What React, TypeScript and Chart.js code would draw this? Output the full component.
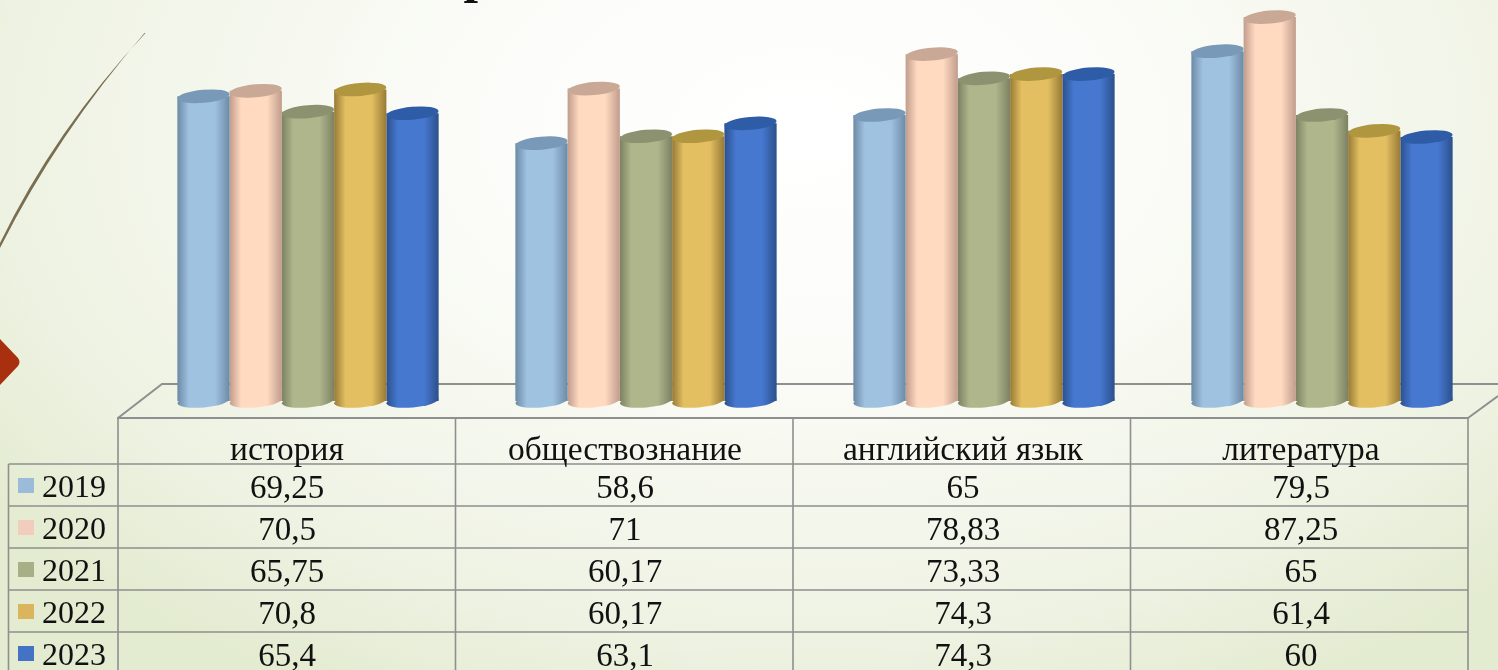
import React, { useEffect, useRef } from "react";
import { Chart, registerables } from "chart.js";

Chart.register(...registerables);

const categories = ["история", "обществознание", "английский язык", "литература"];
const years = ["2019", "2020", "2021", "2022", "2023"];
const values2019 = [69.25, 58.6, 65, 79.5];
const values2020 = [70.5, 71, 78.83, 87.25];
const values2021 = [65.75, 60.17, 73.33, 65];
const values2022 = [70.8, 60.17, 74.3, 61.4];
const values2023 = [65.4, 63.1, 74.3, 60];
const series = [values2019, values2020, values2021, values2022, values2023];

const centreColors = ["#9fc2e0", "#ffd9c0", "#afb68c", "#e3bf62", "#4678d0"];
const edgeColors = ["#6c8aa6", "#c09c8c", "#7c8262", "#977a36", "#2c508c"];
const topColors = ["#7899b8", "#c9a995", "#8c9270", "#b0963f", "#2f5ca6"];
const keyColors = ["#9cbbd8", "#f2cdbe", "#a8af86", "#dbb55e", "#4472c4"];

const GRID = "#8f8f8f";
const SERIF = '"Liberation Serif", serif';

const fmt = (v: number) => String(v).replace(".", ",");

function cylinderGradient(c: CanvasRenderingContext2D, bar: any, i: number) {
  const hw = bar.width / 2;
  const g = c.createLinearGradient(bar.x - hw, 0, bar.x + hw, 0);
  g.addColorStop(0, edgeColors[i]);
  g.addColorStop(0.22, centreColors[i]);
  g.addColorStop(0.72, centreColors[i]);
  g.addColorStop(1, edgeColors[i]);
  return g;
}

const decor = {
  id: "decor",
  beforeDraw(chart: any) {
    const c = chart.ctx;
    c.save();
    // slide decorations
    c.fillStyle = "#7a6e50";
    c.beginPath();
    c.moveTo(145.5, 33);
    c.quadraticCurveTo(55, 130, 0, 243);
    c.lineTo(0, 248);
    c.quadraticCurveTo(58, 133, 144.5, 33);
    c.closePath();
    c.fill();
    c.fillStyle = "#a8300f";
    c.beginPath();
    c.moveTo(0, 339);
    c.lineTo(18, 358);
    c.quadraticCurveTo(21, 362, 18, 366);
    c.lineTo(0, 385);
    c.closePath();
    c.fill();
    c.fillStyle = "#111";
    c.font = "bold 52px " + SERIF;
    c.textAlign = "center";
    c.textBaseline = "alphabetic";
    c.fillText("р", 478, -8);

    // floor
    c.strokeStyle = GRID;
    c.lineWidth = 2;
    c.beginPath();
    c.moveTo(118, 418);
    c.lineTo(162, 384);
    c.lineTo(1498, 384);
    c.moveTo(1468, 418);
    c.lineTo(1498, 396);
    c.stroke();
    c.restore();
  },
  beforeDatasetDraw(chart: any, args: any) {
    const i = args.index;
    chart.getDatasetMeta(i).data.forEach((bar: any) => {
      bar.options = { ...bar.options, backgroundColor: cylinderGradient(chart.ctx, bar, i) };
    });
  },
  afterDatasetDraw(chart: any, args: any) {
    const c = chart.ctx;
    const i = args.index;
    const meta = chart.getDatasetMeta(i);
    const bottom = chart.scales.y.getPixelForValue(0);
    meta.data.forEach((bar: any) => {
      const hw = bar.width / 2;
      const rot = (-5 * Math.PI) / 180;
      c.save();
      c.fillStyle = cylinderGradient(c, bar, i);
      c.beginPath();
      c.ellipse(bar.x, bottom, hw, 6.5, rot, 0, Math.PI * 2);
      c.fill();
      c.fillStyle = topColors[i];
      c.beginPath();
      c.ellipse(bar.x, bar.y, hw, 6.5, rot, 0, Math.PI * 2);
      c.fill();
      c.restore();
    });
  },
  afterDraw(chart: any) {
    const c = chart.ctx;
    const xs = chart.scales.x;
    const step = 337.5;
    const shift = 21;
    const colX = categories.map((_, k) => xs.getPixelForValue(k) - shift);
    const left = 118;
    const right = left + 4 * step;
    const headTop = 418;
    const rowY = [464, 506, 548, 590, 632];
    const H = chart.height;
    const keyLeft = 8.5;
    c.save();
    c.strokeStyle = GRID;
    c.lineWidth = 2;
    c.beginPath();
    c.moveTo(left - 1, headTop);
    c.lineTo(right + 1, headTop);
    c.stroke();
    c.lineWidth = 1.6;
    c.beginPath();
    [0, 1, 2, 3, 4].forEach((k) => {
      const x = left + k * step;
      c.moveTo(x, headTop);
      c.lineTo(x, H);
    });
    c.moveTo(keyLeft, rowY[0]);
    c.lineTo(keyLeft, H);
    rowY.forEach((y) => {
      c.moveTo(keyLeft, y);
      c.lineTo(right, y);
    });
    c.stroke();

    c.fillStyle = "#111";
    c.textBaseline = "alphabetic";
    c.textAlign = "center";
    c.font = "33.5px " + SERIF;
    categories.forEach((t, k) => c.fillText(t, colX[k], 460));
    c.font = "33px " + SERIF;
    years.forEach((y, r) => {
      series[r].forEach((v, k) => c.fillText(fmt(v), colX[k], rowY[r] + 34));
    });
    c.textAlign = "left";
    c.font = "32px " + SERIF;
    years.forEach((y, r) => {
      c.fillStyle = keyColors[r];
      c.fillRect(18, rowY[r] + 14, 16, 15);
      c.fillStyle = "#111";
      c.fillText(y, 42, rowY[r] + 33);
    });
    c.restore();
  },
};

export default function App() {
  const ref = useRef<HTMLCanvasElement>(null);
  useEffect(() => {
    document.body.style.margin = "0";
    document.body.style.overflow = "hidden";
    const chart = new Chart(ref.current!, {
      type: "bar",
      data: {
        labels: categories,
        datasets: series.map((data, i) => ({
          label: years[i],
          data,
          categoryPercentage: 0.773,
          barPercentage: 1,
          backgroundColor: centreColors[i],
        })),
      },
      options: {
        responsive: false,
        animation: false,
        layout: { padding: { left: 139, right: 7, top: 5, bottom: 269 } },
        plugins: { legend: { display: false }, tooltip: { enabled: false } },
        scales: {
          x: { display: false },
          y: { display: false, min: 0, max: 90 },
        },
      },
      plugins: [decor],
    } as any);
    return () => chart.destroy();
  }, []);
  return (
    <div
      style={{
        width: 1498,
        height: 670,
        background:
          "radial-gradient(ellipse 1000px 640px at 800px 130px, #ffffff 0%, #fbfcf8 35%, #eef2e2 80%, #e3ebd0 100%)",
      }}
    >
      <canvas ref={ref} width={1498} height={670} style={{ display: "block" }} />
    </div>
  );
}
